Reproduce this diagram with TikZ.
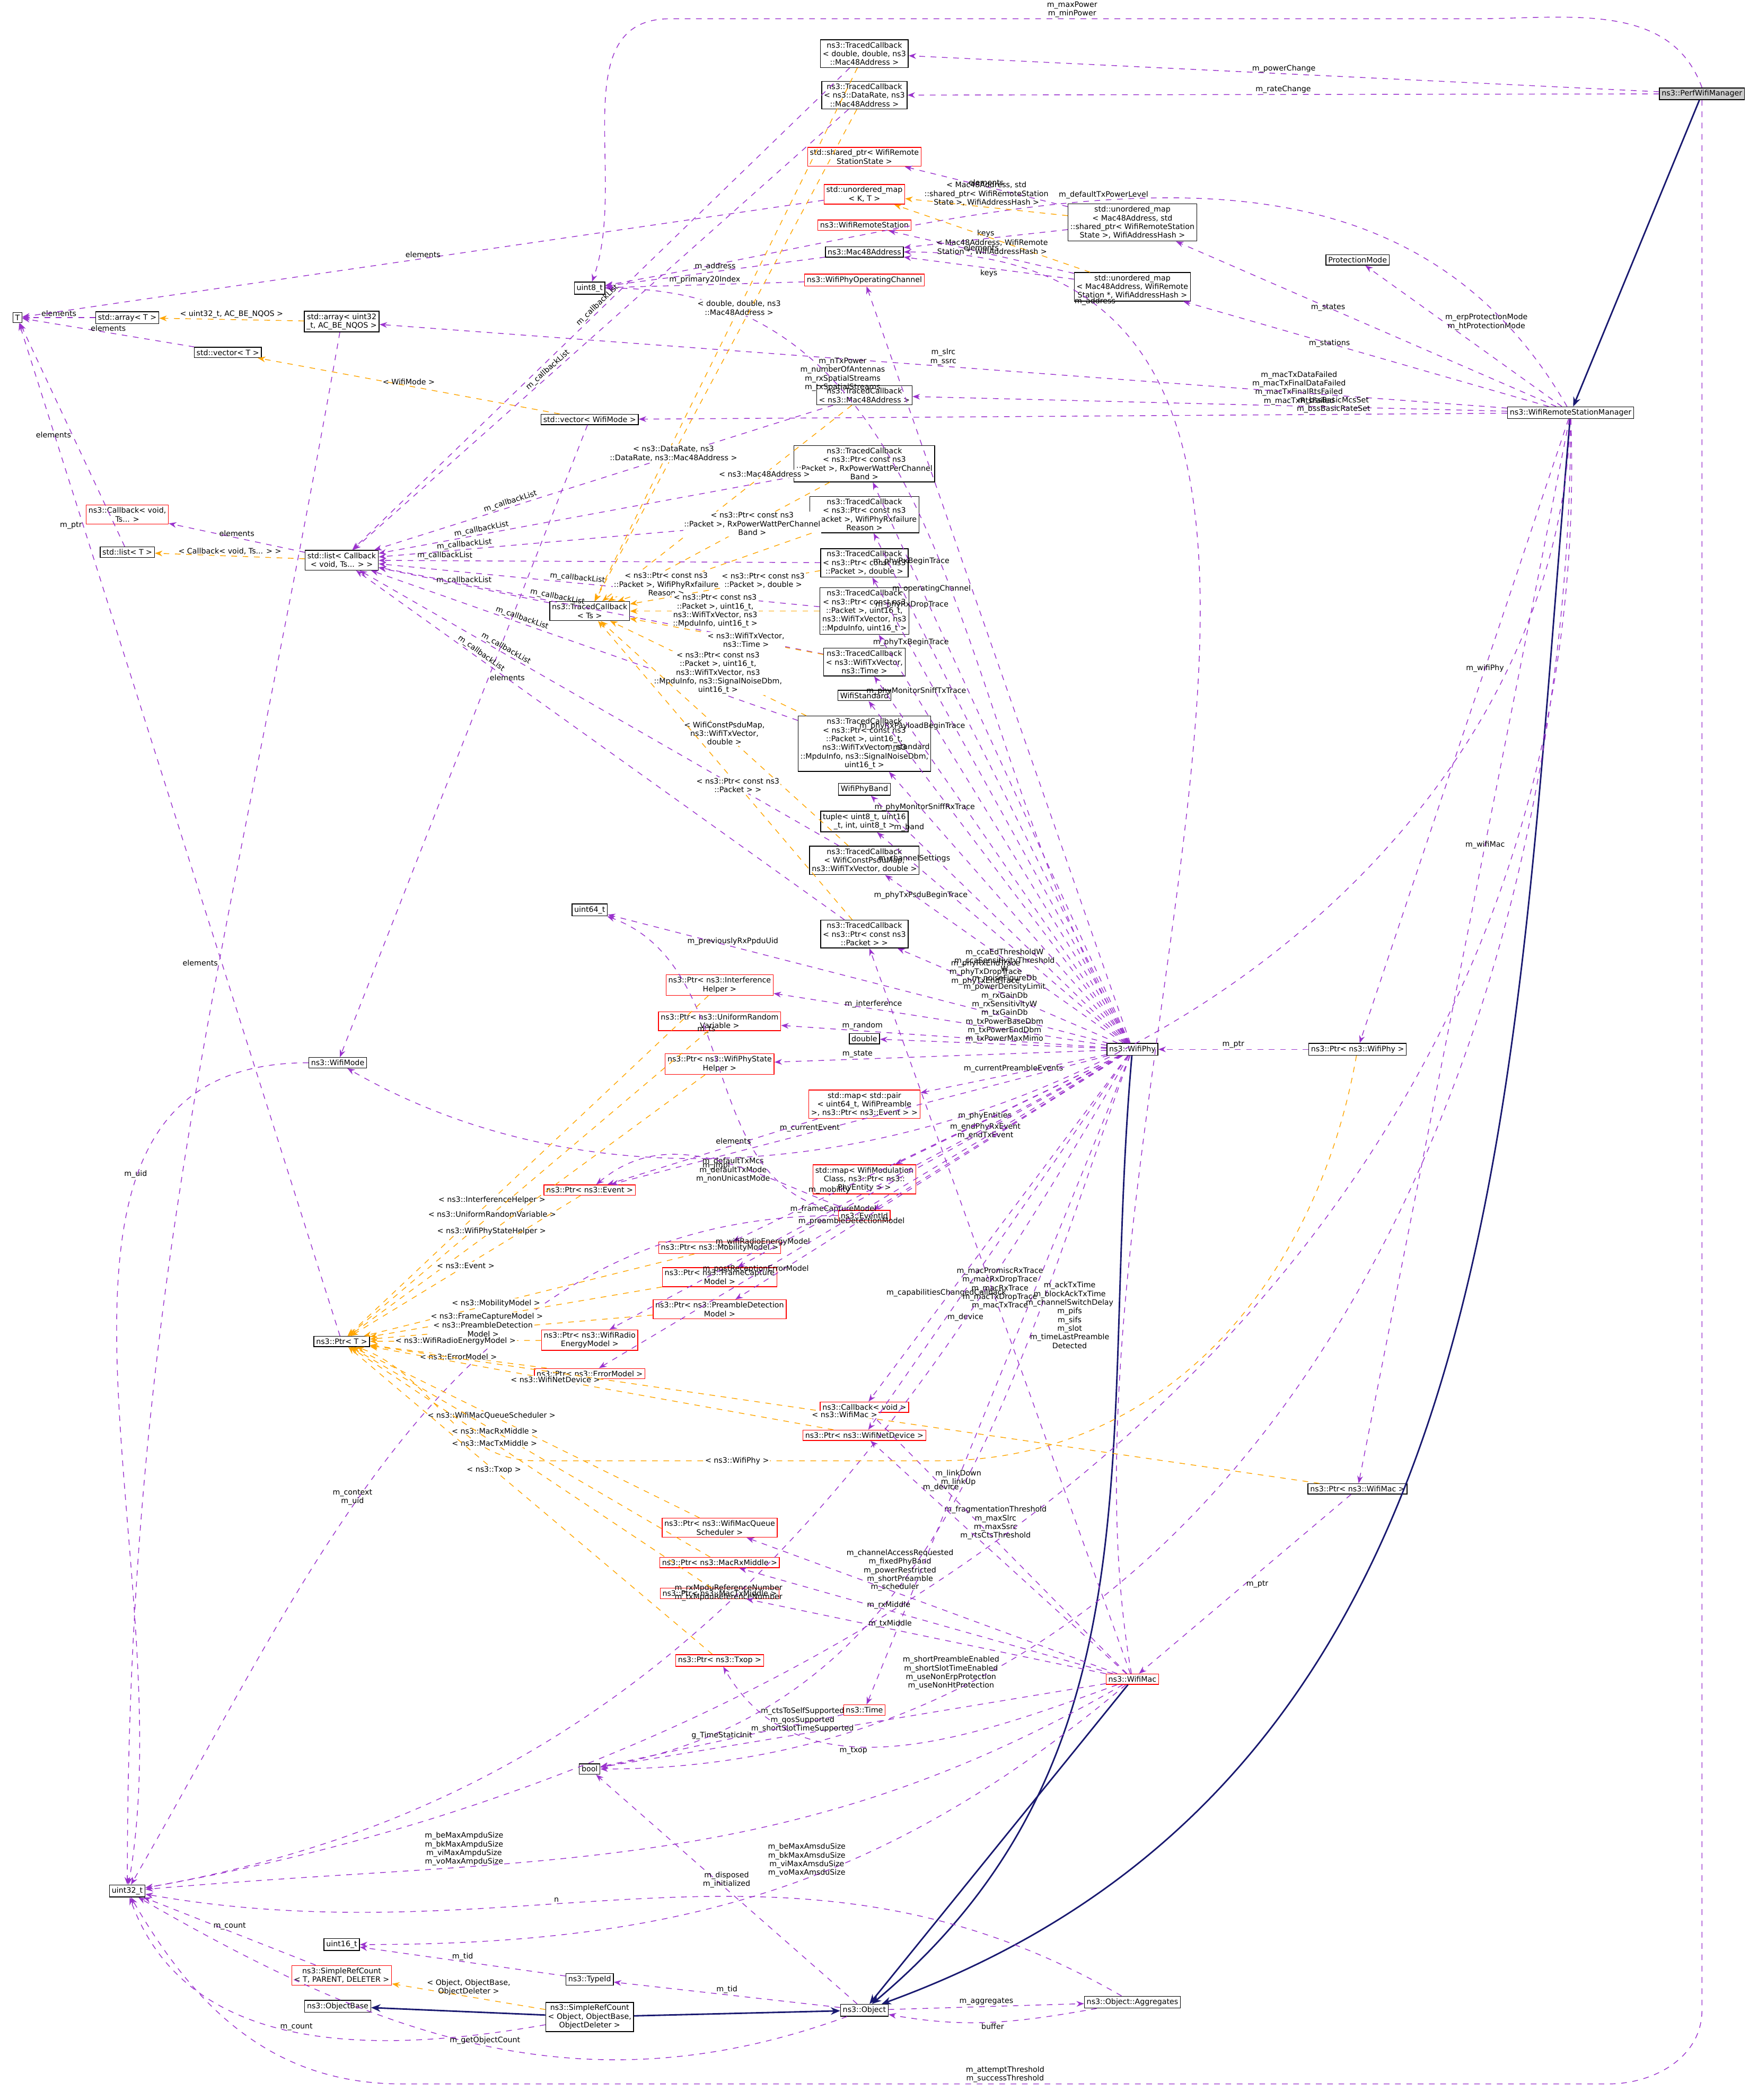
\documentclass[tikz,border=0pt]{standalone}
\usepackage{fontspec}
\usepackage{tikz}
\usetikzlibrary{arrows.meta}
\newfontfamily\dox{DejaVu Sans}
\definecolor{dpurple}{HTML}{9A32CD}
\definecolor{dorange}{HTML}{FFA500}
\definecolor{dnavy}{HTML}{191970}
\tikzset{
  cls/.style = {draw=black, rectangle, align=center, inner sep=1.2pt,
    font=\dox\fontsize{4}{4.6}\selectfont, fill=white},
  clsr/.style = {cls, draw=red},% undocumented
  mem/.style = {draw=dpurple, dashed, -{Stealth[length=4pt,width=3pt]}},
  tpl/.style = {draw=dorange, dashed, -{Stealth[length=4pt,width=3pt]}},
  inh/.style = {draw=dnavy, thick, -{Stealth[length=5pt,width=4pt]}},
  lbl/.style = {font=\dox\fontsize{4}{4.6}\selectfont, align=center,
    inner sep=0.5pt, text=black}
}
\begin{document}
\begin{tikzpicture}[x=0.025cm, y=-0.025cm]
\useasboundingbox (0,0) rectangle (1305,1567);
% classes
\node[cls,fill=gray!40] (perf) at (1270,70) {ns3::PerfWifiManager};
\node[cls] (wrsm) at (1172,308) {ns3::WifiRemoteStationManager};
\node[cls] (phy) at (845,783) {ns3::WifiPhy};
\node[cls] (ptrphy) at (1013,783) {ns3::Ptr< ns3::WifiPhy >};
\node[cls] (ptrmac) at (1013,1111) {ns3::Ptr< ns3::WifiMac >};
\node[clsr] (mac) at (845,1253) {ns3::WifiMac};
\node[cls] (obj) at (645,1500) {ns3::Object};
\node[cls] (aggr) at (845,1494) {ns3::Object::Aggregates};
\node[cls] (src) at (440,1505) {ns3::SimpleRefCount\\< Object, ObjectBase,\\ ObjectDeleter >};
\node[cls] (objbase) at (252,1497) {ns3::ObjectBase};
\node[cls] (typeid) at (440,1477) {ns3::TypeId};
\node[clsr] (srct) at (255,1474) {ns3::SimpleRefCount\\< T, PARENT, DELETER >};
\node[cls] (u16) at (255,1451) {uint16\_t};
\node[cls] (u32) at (95,1411) {uint32\_t};
\node[cls] (bool) at (440,1320) {bool};
\node[clsr] (time) at (645,1276) {ns3::Time};
\node[clsr] (ptxop) at (537,1239) {ns3::Ptr< ns3::Txop >};
\node[clsr] (ptxm) at (537,1189) {ns3::Ptr< ns3::MacTxMiddle >};
\node[clsr] (prxm) at (537,1166) {ns3::Ptr< ns3::MacRxMiddle >};
\node[clsr] (psched) at (537,1140) {ns3::Ptr< ns3::WifiMacQueue\\ Scheduler >};
\node[cls] (ptrt) at (255,1001) {ns3::Ptr< T >};
\node[clsr] (pdev) at (645,1071) {ns3::Ptr< ns3::WifiNetDevice >};
\node[clsr] (cbvoid) at (645,1050) {ns3::Callback< void >};
\node[clsr] (perr) at (440,1025) {ns3::Ptr< ns3::ErrorModel >};
\node[clsr] (pradio) at (440,1000) {ns3::Ptr< ns3::WifiRadio\\ EnergyModel >};
\node[clsr] (ppre) at (537,977) {ns3::Ptr< ns3::PreambleDetection\\ Model >};
\node[clsr] (pfc) at (537,953) {ns3::Ptr< ns3::FrameCapture\\ Model >};
\node[clsr] (pmob) at (537,931) {ns3::Ptr< ns3::MobilityModel >};
\node[clsr] (eventid) at (645,907) {ns3::EventId};
\node[clsr] (pevent) at (440,888) {ns3::Ptr< ns3::Event >};
\node[clsr] (mapmod) at (645,880) {std::map< WifiModulation\\ Class, ns3::Ptr< ns3::\\ PhyEntity > >};
\node[clsr] (mappre) at (645,824) {std::map< std::pair\\< uint64\_t, WifiPreamble\\ >, ns3::Ptr< ns3::Event > >};
\node[clsr] (pstate) at (537,794) {ns3::Ptr< ns3::WifiPhyState\\ Helper >};
\node[cls] (double) at (645,775) {double};
\node[clsr] (prand) at (537,762) {ns3::Ptr< ns3::UniformRandom\\ Variable >};
\node[clsr] (pinterf) at (537,735) {ns3::Ptr< ns3::Interference\\ Helper >};
\node[cls] (wmode) at (252,793) {ns3::WifiMode};
\node[cls] (u64) at (440,679) {uint64\_t};
\node[cls] (tcbpkt) at (645,697) {ns3::TracedCallback\\< ns3::Ptr< const ns3\\ ::Packet > >};
\node[cls] (tcbpsdu) at (645,642) {ns3::TracedCallback\\< WifiConstPsduMap,\\ ns3::WifiTxVector, double >};
\node[cls] (tuple) at (645,613) {tuple< uint8\_t, uint16\\ \_t, int, uint8\_t >};
\node[cls] (band) at (645,589) {WifiPhyBand};
\node[cls] (tcbrxsniff) at (645,555) {ns3::TracedCallback\\< ns3::Ptr< const ns3\\ ::Packet >, uint16\_t,\\ ns3::WifiTxVector, ns3\\ ::MpduInfo, ns3::SignalNoiseDbm,\\ uint16\_t >};
\node[cls] (standard) at (645,519) {WifiStandard};
\node[cls] (tcbtime) at (645,494) {ns3::TracedCallback\\< ns3::WifiTxVector,\\ ns3::Time >};
\node[cls] (tcbtxsniff) at (645,456) {ns3::TracedCallback\\< ns3::Ptr< const ns3\\ ::Packet >, uint16\_t,\\ ns3::WifiTxVector, ns3\\ ::MpduInfo, uint16\_t >};
\node[cls] (tcbpktdbl) at (645,420) {ns3::TracedCallback\\< ns3::Ptr< const ns3\\ ::Packet >, double >};
\node[cls] (tcbfail) at (645,384) {ns3::TracedCallback\\< ns3::Ptr< const ns3\\ ::Packet >, WifiPhyRxfailure\\ Reason >};
\node[cls] (tcbrxbegin) at (645,346) {ns3::TracedCallback\\< ns3::Ptr< const ns3\\ ::Packet >, RxPowerWattPerChannel\\ Band >};
\node[cls] (tcbmac) at (645,295) {ns3::TracedCallback\\< ns3::Mac48Address >};
\node[cls] (tcbts) at (440,456) {ns3::TracedCallback\\< Ts >};
\node[cls] (lcb) at (255,418) {std::list< Callback\\< void, Ts... > >};
\node[cls] (listt) at (95,412) {std::list< T >};
\node[clsr] (cbts) at (95,384) {ns3::Callback< void,\\ Ts... >};
\node[cls] (vecwm) at (440,313) {std::vector< WifiMode >};
\node[cls] (vect) at (170,263) {std::vector< T >};
\node[cls] (arrt) at (95,237) {std::array< T >};
\node[cls] (T) at (13,237) {T};
\node[cls] (arru32) at (255,240) {std::array< uint32\\ \_t, AC\_BE\_NQOS >};
\node[cls] (u8) at (440,215) {uint8\_t};
\node[clsr] (opchan) at (645,209) {ns3::WifiPhyOperatingChannel};
\node[cls] (mac48) at (645,188) {ns3::Mac48Address};
\node[clsr] (rstation) at (645,168) {ns3::WifiRemoteStation};
\node[clsr] (umapkt) at (645,145) {std::unordered\_map\\< K, T >};
\node[clsr] (shstate) at (645,117) {std::shared\_ptr< WifiRemote\\ StationState >};
\node[cls] (tcbrate) at (645,71) {ns3::TracedCallback\\< ns3::DataRate, ns3\\ ::Mac48Address >};
\node[cls] (tcbpow) at (645,40) {ns3::TracedCallback\\< double, double, ns3\\ ::Mac48Address >};
\node[cls] (umstates) at (845,166) {std::unordered\_map\\< Mac48Address, std\\ ::shared\_ptr< WifiRemoteStation\\ State >, WifiAddressHash >};
\node[cls] (umstations) at (845,214) {std::unordered\_map\\< Mac48Address, WifiRemote\\ Station *, WifiAddressHash >};
\node[cls] (protmode) at (1013,194) {ProtectionMode};
% inheritance
\draw[inh] (perf) -- (wrsm);
\draw[inh] (wrsm) to[out=-95,in=20] (obj);
\draw[inh] (phy) to[out=-95,in=40] (obj);
\draw[inh] (mac) -- (obj);
\draw[inh] (src) -- (obj);
\draw[inh] (src) -- (objbase);
% PerfWifiManager members
\draw[mem] (perf) -- node[lbl,above]{m\_powerChange} (tcbpow);
\draw[mem] (perf) -- node[lbl,above]{m\_rateChange} (tcbrate);
\draw[mem] (perf.north) to[out=110,in=0] (1100,14) -- node[lbl,above]{m\_maxPower\\m\_minPower} (500,14) to[out=180,in=70] (u8);
\draw[mem] (perf.south) -- (1270,1500) to[out=-90,in=0] (1200,1555) -- node[lbl,above]{m\_attemptThreshold\\m\_successThreshold} (300,1555) to[out=180,in=-60] (u32);
% WifiRemoteStationManager members
\draw[mem] (wrsm) -- node[lbl,pos=0.4]{m\_wifiPhy} (ptrphy);
\draw[mem] (wrsm) -- node[lbl,pos=0.4]{m\_wifiMac} (ptrmac);
\draw[mem] (wrsm) -- node[lbl,pos=0.6]{m\_states} (umstates);
\draw[mem] (wrsm) -- node[lbl,pos=0.6]{m\_stations} (umstations);
\draw[mem] (wrsm) -- node[lbl,pos=0.6,right]{m\_erpProtectionMode\\m\_htProtectionMode} (protmode);
\draw[mem] (wrsm) -- node[lbl,pos=0.35,above]{m\_macTxDataFailed\\m\_macTxFinalDataFailed\\m\_macTxFinalRtsFailed\\m\_macTxRtsFailed} (tcbmac);
\draw[mem] (wrsm) -- node[lbl,pos=0.5,above]{m\_slrc\\m\_ssrc} (arru32);
\draw[mem] (wrsm) -- node[lbl,pos=0.2,above]{m\_bssBasicMcsSet\\m\_bssBasicRateSet} (vecwm);
\draw[mem] (wrsm) to[out=-90,in=0] node[lbl,pos=0.8,above]{m\_shortPreambleEnabled\\m\_shortSlotTimeEnabled\\m\_useNonErpProtection\\m\_useNonHtProtection} (bool);
\draw[mem] (wrsm) to[out=-92,in=-30] node[lbl,pos=0.75,below]{m\_defaultTxMcs\\m\_defaultTxMode\\m\_nonUnicastMode} (wmode);
\draw[mem] (wrsm) to[out=-88,in=10] node[lbl,pos=0.6,above]{m\_fragmentationThreshold\\m\_maxSlrc\\m\_maxSsrc\\m\_rtsCtsThreshold} (u32);
\draw[mem] (wrsm) to[out=120,in=10] node[lbl,pos=0.55,above]{m\_defaultTxPowerLevel} (u8);
\draw[mem] (ptrphy) -- node[lbl,above]{m\_ptr} (phy);
\draw[mem] (ptrmac) -- node[lbl,right]{m\_ptr} (mac);
% WifiPhy members
\draw[mem] (phy) -- node[lbl,pos=0.85,above]{m\_phyRxBeginTrace} (tcbrxbegin);
\draw[mem] (phy) -- node[lbl,pos=0.85,above]{m\_phyRxDropTrace} (tcbfail);
\draw[mem] (phy) -- node[lbl,pos=0.85,above]{m\_phyTxBeginTrace} (tcbpktdbl);
\draw[mem] (phy) -- node[lbl,pos=0.85,above]{m\_phyMonitorSniffTxTrace} (tcbtxsniff);
\draw[mem] (phy) -- node[lbl,pos=0.85,above]{m\_phyRxPayloadBeginTrace} (tcbtime);
\draw[mem] (phy) -- node[lbl,pos=0.85,above]{m\_standard} (standard);
\draw[mem] (phy) -- node[lbl,pos=0.85,above]{m\_phyMonitorSniffRxTrace} (tcbrxsniff);
\draw[mem] (phy) -- node[lbl,pos=0.85,above]{m\_band} (band);
\draw[mem] (phy) -- node[lbl,pos=0.85,above]{m\_channelSettings} (tuple);
\draw[mem] (phy) -- node[lbl,pos=0.85,above]{m\_phyTxPsduBeginTrace} (tcbpsdu);
\draw[mem] (phy) -- node[lbl,pos=0.75,above]{m\_previouslyRxPpduUid} (u64);
\draw[mem] (phy) -- node[lbl,pos=0.6,above]{m\_phyRxEndTrace\\m\_phyTxDropTrace\\m\_phyTxEndTrace} (tcbpkt);
\draw[mem] (phy) -- node[lbl,pos=0.7,above]{m\_interference} (pinterf);
\draw[mem] (phy) -- node[lbl,pos=0.75,above]{m\_random} (prand);
\draw[mem] (phy) -- node[lbl,pos=0.45,above]{m\_ccaEdThresholdW\\m\_ccaSensitivityThreshold\\W\\m\_noiseFigureDb\\m\_powerDensityLimit\\m\_rxGainDb\\m\_rxSensitivityW\\m\_txGainDb\\m\_txPowerBaseDbm\\m\_txPowerEndDbm\\m\_txPowerMaxMimo} (double);
\draw[mem] (phy) -- node[lbl,pos=0.75,above]{m\_state} (pstate);
\draw[mem] (phy) -- node[lbl,pos=0.5,above]{m\_currentPreambleEvents} (mappre);
\draw[mem] (phy) -- node[lbl,pos=0.6,above]{m\_currentEvent} (pevent);
\draw[mem] (phy) -- node[lbl,pos=0.6,above]{m\_phyEntities} (mapmod);
\draw[mem] (phy) -- node[lbl,pos=0.55,above]{m\_endPhyRxEvent\\m\_endTxEvent} (eventid);
\draw[mem] (phy) -- node[lbl,pos=0.75,above]{m\_mobility} (pmob);
\draw[mem] (phy) -- node[lbl,pos=0.75,above]{m\_frameCaptureModel} (pfc);
\draw[mem] (phy) -- node[lbl,pos=0.7,above]{m\_preambleDetectionModel} (ppre);
\draw[mem] (phy) -- node[lbl,pos=0.7,above]{m\_wifiRadioEnergyModel} (pradio);
\draw[mem] (phy) -- node[lbl,pos=0.7,above]{m\_postReceptionErrorModel} (perr);
\draw[mem] (phy) -- node[lbl,pos=0.7,above]{m\_capabilitiesChangedCallback} (cbvoid);
\draw[mem] (phy) -- node[lbl,pos=0.7,right]{m\_device} (pdev);
\draw[mem] (phy) -- node[lbl,pos=0.6,left]{m\_operatingChannel} (opchan);
\draw[mem] (phy) to[out=120,in=0] node[lbl,pos=0.7,above]{m\_nTxPower\\m\_numberOfAntennas\\m\_rxSpatialStreams\\m\_txSpatialStreams} (u8);
\draw[mem] (phy) to[out=-110,in=10] node[lbl,pos=0.6,above]{m\_channelAccessRequested\\m\_fixedPhyBand\\m\_powerRestricted\\m\_shortPreamble} (bool);
\draw[mem] (phy) to[out=-120,in=10] node[lbl,pos=0.5,above]{m\_rxMpduReferenceNumber\\m\_txMpduReferenceNumber} (u32);
\draw[mem] (phy) -- node[lbl,pos=0.4,right]{m\_ackTxTime\\m\_blockAckTxTime\\m\_channelSwitchDelay\\m\_pifs\\m\_sifs\\m\_slot\\m\_timeLastPreamble\\Detected} (time);
% WifiMac members
\draw[mem] (mac) -- node[lbl,pos=0.6,above]{m\_scheduler} (psched);
\draw[mem] (mac) -- node[lbl,pos=0.6,above]{m\_rxMiddle} (prxm);
\draw[mem] (mac) -- node[lbl,pos=0.6,above]{m\_txMiddle} (ptxm);
\draw[mem] (mac) to[out=-160,in=-60] node[lbl,pos=0.6,below]{m\_txop} (ptxop);
\draw[mem] (mac) -- node[lbl,pos=0.6,above]{m\_ctsToSelfSupported\\m\_qosSupported\\m\_shortSlotTimeSupported} (bool);
\draw[mem] (mac) to[out=-150,in=5] node[lbl,pos=0.7,above]{m\_beMaxAmpduSize\\m\_bkMaxAmpduSize\\m\_viMaxAmpduSize\\m\_voMaxAmpduSize} (u32);
\draw[mem] (mac) to[out=-140,in=0] node[lbl,pos=0.45,above]{m\_beMaxAmsduSize\\m\_bkMaxAmsduSize\\m\_viMaxAmsduSize\\m\_voMaxAmsduSize} (u16);
\draw[mem] (mac) -- node[lbl,pos=0.75,right]{m\_linkDown\\m\_linkUp} (cbvoid);
\draw[mem] (mac) -- node[lbl,pos=0.8,right]{m\_device} (pdev);
\draw[mem] (mac) to[out=100,in=0] node[lbl,pos=0.85,above]{m\_address} (mac48);
\draw[mem] (mac) -- node[lbl,pos=0.5,above]{m\_macPromiscRxTrace\\m\_macRxDropTrace\\m\_macRxTrace\\m\_macTxDropTrace\\m\_macTxTrace} (tcbpkt);
% Object members
\draw[mem] (obj) -- node[lbl,above]{m\_tid} (typeid);
\draw[mem] (obj) -- node[lbl,above]{m\_aggregates} (aggr);
\draw[mem] (aggr) to[out=-170,in=-10] node[lbl,below]{buffer} (obj);
\draw[mem] (obj) -- node[lbl,pos=0.5,above]{m\_disposed\\m\_initialized} (bool);
\draw[mem] (obj) to[out=-160,in=-30] node[lbl,pos=0.5,above]{m\_getObjectCount} (u32);
\draw[mem] (aggr) to[out=150,in=-10] node[lbl,pos=0.6,above]{n} (u32);
\draw[mem] (src) to[out=-170,in=-70] node[lbl,pos=0.5,above]{m\_count} (u32);
\draw[mem] (srct) -- node[lbl,above]{m\_count} (u32);
\draw[tpl] (src) -- node[lbl,above]{< Object, ObjectBase,\\ObjectDeleter >} (srct);
\draw[mem] (typeid) -- node[lbl,above]{m\_tid} (u16);
\draw[mem] (time) -- node[lbl,above]{g\_TimeStaticInit} (bool);
% containers
\draw[mem] (ptrt) -- node[lbl,pos=0.8,left]{m\_ptr} (T);
\draw[mem] (listt) -- node[lbl,left]{elements} (T);
\draw[mem] (vect) -- node[lbl,above]{elements} (T);
\draw[mem] (arrt) -- node[lbl,above]{elements} (T);
\draw[mem] (umapkt) -- node[lbl,above]{elements} (T);
\draw[tpl] (lcb) -- node[lbl,above]{< Callback< void, Ts... > >} (listt);
\draw[mem] (lcb) -- node[lbl,above]{elements} (cbts);
\draw[tpl] (vecwm) -- node[lbl,above]{< WifiMode >} (vect);
\draw[tpl] (arru32) -- node[lbl,above]{< uint32\_t, AC\_BE\_NQOS >} (arrt);
\draw[mem] (arru32) to[out=-100,in=90] node[lbl,pos=0.4,left]{elements} (u32);
\draw[mem] (vecwm) -- node[lbl,pos=0.4,right]{elements} (wmode);
\draw[mem] (wmode) to[out=180,in=80] node[lbl,pos=0.3,above]{m\_uid} (u32);
\draw[mem] (eventid) to[out=180,in=60] node[lbl,pos=0.6,above]{m\_context\\m\_uid} (u32);
\draw[mem] (eventid) to[out=170,in=-20] node[lbl,pos=0.6,above]{m\_ts} (u64);
\draw[mem] (eventid) to[out=160,in=40] node[lbl,pos=0.5,below]{m\_impl} (pevent);
\draw[mem] (mappre) -- node[lbl,pos=0.4,above]{elements} (pevent);
\draw[mem] (opchan) -- node[lbl,above]{m\_primary20Index} (u8);
\draw[mem] (mac48) -- node[lbl,above]{m\_address} (u8);
\draw[mem] (umstates) -- node[lbl,above]{elements} (shstate);
\draw[mem] (umstates) -- node[lbl,above]{keys} (mac48);
\draw[mem] (umstations) -- node[lbl,above]{elements} (rstation);
\draw[mem] (umstations) -- node[lbl,below]{keys} (mac48);
\draw[tpl] (umstates) -- node[lbl,above]{< Mac48Address, std\\::shared\_ptr< WifiRemoteStation\\State >, WifiAddressHash >} (umapkt);
\draw[tpl] (umstations) -- node[lbl,below]{< Mac48Address, WifiRemote\\Station *, WifiAddressHash >} (umapkt);
% traced callbacks
\draw[mem] (tcbts) -- node[lbl,above]{m\_callbackList} (lcb);
\foreach \cb/\p in {tcbpow/0.5,tcbrate/0.6,tcbmac/0.7,tcbrxbegin/0.75,tcbfail/0.8,tcbpktdbl/0.85,tcbtxsniff/0.55,tcbtime/0.6,tcbrxsniff/0.65,tcbpsdu/0.7,tcbpkt/0.75}
  \draw[mem] (\cb) -- node[lbl,pos=\p,above,sloped]{m\_callbackList} (lcb);
\draw[tpl] (tcbpow) -- node[lbl,pos=0.45,fill=white]{< double, double, ns3\\::Mac48Address >} (tcbts);
\draw[tpl] (tcbrate) -- node[lbl,pos=0.7,fill=white]{< ns3::DataRate, ns3\\::DataRate, ns3::Mac48Address >} (tcbts);
\draw[tpl] (tcbmac) -- node[lbl,pos=0.35,fill=white]{< ns3::Mac48Address >} (tcbts);
\draw[tpl] (tcbrxbegin) -- node[lbl,pos=0.35,fill=white]{< ns3::Ptr< const ns3\\::Packet >, RxPowerWattPerChannel\\Band >} (tcbts);
\draw[tpl] (tcbfail) -- node[lbl,pos=0.75,fill=white]{< ns3::Ptr< const ns3\\::Packet >, WifiPhyRxfailure\\Reason >} (tcbts);
\draw[tpl] (tcbpktdbl) -- node[lbl,pos=0.3,fill=white]{< ns3::Ptr< const ns3\\::Packet >, double >} (tcbts);
\draw[tpl] (tcbtxsniff) -- node[lbl,pos=0.55,fill=white]{< ns3::Ptr< const ns3\\::Packet >, uint16\_t,\\ns3::WifiTxVector, ns3\\::MpduInfo, uint16\_t >} (tcbts);
\draw[tpl] (tcbtime) -- node[lbl,pos=0.4,fill=white]{< ns3::WifiTxVector,\\ns3::Time >} (tcbts);
\draw[tpl] (tcbrxsniff) -- node[lbl,pos=0.45,fill=white]{< ns3::Ptr< const ns3\\::Packet >, uint16\_t,\\ns3::WifiTxVector, ns3\\::MpduInfo, ns3::SignalNoiseDbm,\\uint16\_t >} (tcbts);
\draw[tpl] (tcbpsdu) -- node[lbl,pos=0.5,fill=white]{< WifiConstPsduMap,\\ns3::WifiTxVector,\\double >} (tcbts);
\draw[tpl] (tcbpkt) -- node[lbl,pos=0.45,fill=white]{< ns3::Ptr< const ns3\\::Packet > >} (tcbts);
% Ptr instances
\draw[tpl] (pinterf) -- node[lbl,pos=0.6,fill=white]{< ns3::InterferenceHelper >} (ptrt);
\draw[tpl] (prand) -- node[lbl,pos=0.6,fill=white]{< ns3::UniformRandomVariable >} (ptrt);
\draw[tpl] (pstate) -- node[lbl,pos=0.6,fill=white]{< ns3::WifiPhyStateHelper >} (ptrt);
\draw[tpl] (pevent) -- node[lbl,pos=0.5,fill=white]{< ns3::Event >} (ptrt);
\draw[tpl] (pmob) -- node[lbl,pos=0.6,fill=white]{< ns3::MobilityModel >} (ptrt);
\draw[tpl] (pfc) -- node[lbl,pos=0.6,fill=white]{< ns3::FrameCaptureModel >} (ptrt);
\draw[tpl] (ppre) -- node[lbl,pos=0.6,fill=white]{< ns3::PreambleDetection\\Model >} (ptrt);
\draw[tpl] (pradio) -- node[lbl,pos=0.5,fill=white]{< ns3::WifiRadioEnergyModel >} (ptrt);
\draw[tpl] (perr) -- node[lbl,pos=0.5,fill=white]{< ns3::ErrorModel >} (ptrt);
\draw[tpl] (pdev) -- node[lbl,pos=0.6,fill=white]{< ns3::WifiNetDevice >} (ptrt);
\draw[tpl] (ptrphy) to[out=-100,in=0] (700,1090) -- node[lbl,fill=white]{< ns3::WifiPhy >} (400,1090) to[out=180,in=-20] (ptrt);
\draw[tpl] (ptrmac) -- node[lbl,pos=0.5,fill=white]{< ns3::WifiMac >} (ptrt);
\draw[tpl] (psched) -- node[lbl,pos=0.6,fill=white]{< ns3::WifiMacQueueScheduler >} (ptrt);
\draw[tpl] (prxm) -- node[lbl,pos=0.6,fill=white]{< ns3::MacRxMiddle >} (ptrt);
\draw[tpl] (ptxm) -- node[lbl,pos=0.6,fill=white]{< ns3::MacTxMiddle >} (ptrt);
\draw[tpl] (ptxop) -- node[lbl,pos=0.6,fill=white]{< ns3::Txop >} (ptrt);
\end{tikzpicture}
\end{document}
